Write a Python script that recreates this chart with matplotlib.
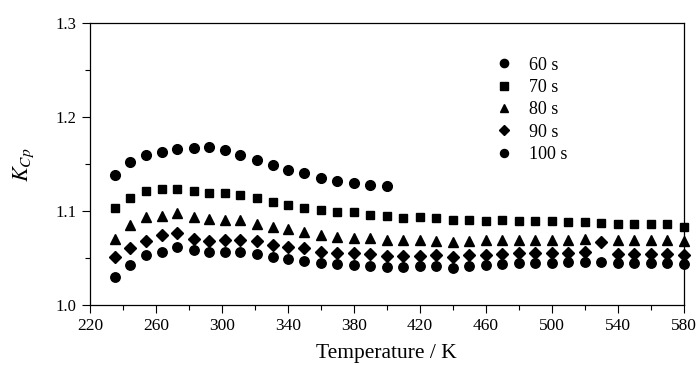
import numpy as np
import matplotlib
matplotlib.use("Agg")
import matplotlib.pyplot as plt
from matplotlib.ticker import MultipleLocator, FormatStrFormatter

plt.rcParams['font.family'] = ['Liberation Serif', 'DejaVu Serif']
plt.rcParams['mathtext.fontset'] = 'stix'

# Temperatures (K)
temps = [235, 244, 254, 264, 273, 283, 292, 302, 311, 321, 331,
         340, 350, 360, 370, 380, 390, 400, 410, 420, 430, 440, 450,
         460, 470, 480, 490, 500, 510, 520, 530, 540, 550, 560, 570, 580]

k_60s = [1.1386, 1.1521, 1.1602, 1.1634, 1.1663, 1.1677, 1.1681, 1.1652,
         1.1596, 1.1543, 1.1496, 1.1443, 1.1404, 1.1354, 1.1319, 1.1304,
         1.1283, 1.1269]

k_70s = [1.1035, 1.1140, 1.1220, 1.1240, 1.1240, 1.1210, 1.1190, 1.1190,
         1.1175, 1.1138, 1.1098, 1.1062, 1.1038, 1.1011, 1.0996, 1.0989,
         1.0965, 1.0946, 1.0933, 1.0935, 1.0926, 1.0902, 1.0905, 1.0898,
         1.0902, 1.0898, 1.0898, 1.0895, 1.0889, 1.0880, 1.0872, 1.0867,
         1.0867, 1.0862, 1.0860, 1.0836]

k_80s = [1.0708, 1.0854, 1.0936, 1.0946, 1.0980, 1.0940, 1.0912, 1.0905,
         1.0905, 1.0868, 1.0836, 1.0810, 1.0780, 1.0752, 1.0727, 1.0715,
         1.0713, 1.0695, 1.0692, 1.0695, 1.0684, 1.0670, 1.0687, 1.0690,
         1.0690, 1.0695, 1.0695, 1.0695, 1.0697, 1.0705, np.nan, 1.0697,
         1.0690, 1.0690, 1.0690, 1.0680]

k_90s = [1.0517, 1.0606, 1.0684, 1.0748, 1.0766, 1.0705, 1.0687, 1.0692,
         1.0692, 1.0686, 1.0645, 1.0615, 1.0606, 1.0570, 1.0556, 1.0550,
         1.0543, 1.0524, 1.0524, 1.0528, 1.0535, 1.0512, 1.0535, 1.0535,
         1.0543, 1.0553, 1.0560, 1.0560, 1.0550, 1.0565, 1.0677, 1.0545,
         1.0545, 1.0540, 1.0540, 1.0530]

k_100s = [1.0304, 1.0429, 1.0535, 1.0570, 1.0617, 1.0592, 1.0562, 1.0562,
          1.0562, 1.0546, 1.0511, 1.0489, 1.0471, 1.0453, 1.0436, 1.0429,
          1.0418, 1.0407, 1.0407, 1.0418, 1.0415, 1.0397, 1.0414, 1.0429,
          1.0436, 1.0447, 1.0450, 1.0450, 1.0460, 1.0464, 1.0464, 1.0453,
          1.0453, 1.0453, 1.0447, 1.0442]

labels = ['60 s', '70 s', '80 s', '90 s', '100 s']
series = [k_60s, k_70s, k_80s, k_90s, k_100s]
markers = ['o', 's', '^', 'D', 'o']
msizes = [7.0, 6.0, 6.6, 5.8, 6.8]

x_ticks = [220, 260, 300, 340, 380, 420, 460, 500, 540, 580]

fig = plt.figure(figsize=(6.97, 3.65), dpi=100)
ax = fig.add_axes([0.129, 0.164, 0.852, 0.772])

for lab, vals, m, ms in zip(labels, series, markers, msizes):
    ax.plot(temps[:len(vals)], vals, linestyle='none', marker=m, ms=ms,
            color='black', label=lab, clip_on=False)

ax.set_xlim(220, 580)
ax.set_ylim(1.0, 1.3)
ax.set_xticks(x_ticks)
ax.xaxis.set_minor_locator(MultipleLocator(20))
ax.yaxis.set_major_locator(MultipleLocator(0.1))
ax.yaxis.set_minor_locator(MultipleLocator(0.05))
ax.yaxis.set_major_formatter(FormatStrFormatter('%.1f'))
ax.tick_params(which='major', direction='out', length=6, width=0.8,
               labelsize=12, top=False, right=False)
ax.tick_params(axis='x', which='major', labelsize=12.5)
ax.tick_params(which='minor', direction='out', length=3.5, width=0.8,
               top=False, right=False)
for s in ax.spines.values():
    s.set_linewidth(0.9)

ax.set_xlabel('Temperature / K', fontsize=15.5, labelpad=7)
ax.set_ylabel('$K_{Cp}$', fontsize=16, labelpad=14)

leg = ax.legend(loc='upper left', bbox_to_anchor=(0.655, 0.94), frameon=False,
                fontsize=13, handletextpad=0.9, labelspacing=0.3,
                markerscale=0.85, handlelength=1.0)

fig.savefig('out.png', dpi=100)
